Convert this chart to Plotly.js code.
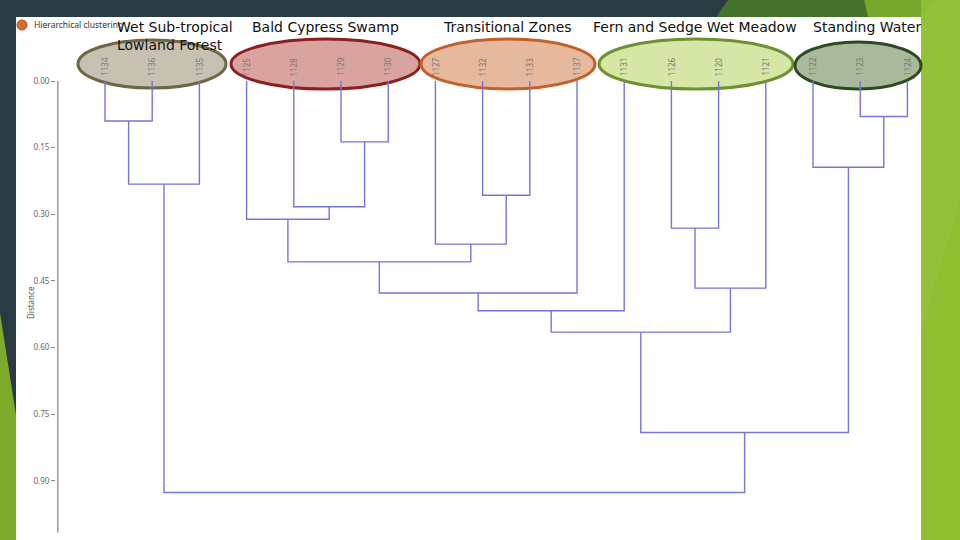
<!DOCTYPE html>
<html>
<head>
<meta charset="utf-8">
<script src="https://cdn.plot.ly/plotly-3.0.1.min.js"></script>
<style>html,body{margin:0;padding:0;background:#2a3a43;}#chart{width:960px;height:540px;}</style>
</head>
<body>
<div id="chart"></div>
<script>
// ---- data ----
const leaves = ['1134','1136','1135','1125','1128','1129','1130','1127','1132','1133','1137','1131','1126','1120','1121','1122','1123','1124'];
// linkage: [child A, child B, distance]; children are leaf names or merge ids "m<k>"
const mergeA = ['1123','1134','1129','1122','m1','1132','1128','1125','1126','1127','m7','m8','m10','m12','m13','m14','m4'];
const mergeB = ['1124','1136','1130','m0','1135','1133','m2','m6','1120','m5','m9','1121','1137','1131','m11','m3','m15'];
const mergeH = [0.080,0.090,0.137,0.194,0.232,0.257,0.283,0.311,0.331,0.367,0.407,0.466,0.477,0.517,0.565,0.791,0.926];
const yTicks = [0,0.15,0.30,0.45,0.60,0.75,0.90];
const yTickText = ['0.00','0.15','0.30','0.45','0.60','0.75','0.90'];
const groupNames = ['Wet Sub-tropical<br>Lowland Forest','Bald Cypress Swamp','Transitional Zones','Fern and Sedge Wet Meadow','Standing Water'];

// ---- layout geometry (pixels) ----
const W=960,H=540,L=56,R=921,T=17,B=535;
const leaf0=105, step=47.2, yZero=81, pxPerUnit=444.4;
const px2x = p => (p-L)/(R-L);
const py2y = p => (B-p)/(B-T);

// compute dendrogram segments
const pos = {}; // name -> [x, h]
leaves.forEach((n,i)=>{pos[n]=[i,0];});
const lx=[], ly=[];
mergeH.forEach((h,k)=>{
  const a=pos[mergeA[k]], b=pos[mergeB[k]];
  lx.push(a[0],a[0],b[0],b[0],null);
  ly.push(a[1],h,h,b[1],null);
  pos['m'+k]=[(a[0]+b[0])/2,h];
});

const traces=[{
  type:'scatter',mode:'lines',x:lx,y:ly,
  line:{color:'#7676d6',width:1.4},hoverinfo:'skip',showlegend:false
}];

const shapes=[];
// white panel
shapes.push({type:'rect',xref:'paper',yref:'paper',x0:px2x(16),x1:px2x(921),y0:py2y(540),y1:py2y(17),fillcolor:'#ffffff',line:{width:0},layer:'below'});
// green decorations
function poly(pts,color){
  const d='M'+pts.map(p=>px2x(p[0])+','+py2y(p[1])).join(' L')+' Z';
  shapes.push({type:'path',xref:'paper',yref:'paper',path:d,fillcolor:color,line:{width:0},layer:'below'});
}
poly([[0,313],[16,415],[16,540],[0,540]],'#7fab2c');
poly([[728,0],[864,0],[868,17],[716,17]],'#44722a');
poly([[864,0],[960,0],[960,17],[868,17]],'#78a72e');
poly([[921,0],[960,0],[960,540],[921,540]],'#8fbf31');
poly([[935,0],[960,0],[960,200],[921,330],[921,17]],'#93c23a');

// ellipses
const ell=[
  [78,226,40,88,'#c6c1b0','#6d6647'],
  [231,420,39,89,'#d9a3a0','#8c2020'],
  [421,595,39,89,'#e6b89e','#c0612a'],
  [599,793,39,89,'#d5e6a6','#6f9030'],
  [795,921,42,89,'#a9b99c','#2d4a1e']
];
ell.forEach(e=>{
  shapes.push({type:'circle',xref:'paper',yref:'paper',x0:px2x(e[0]),x1:px2x(e[1]),y0:py2y(e[3]),y1:py2y(e[2]),fillcolor:e[4],line:{color:e[5],width:3},layer:'below'});
});
// axis line
shapes.push({type:'line',xref:'x',yref:'y',x0:-1,x1:-1,y0:0,y1:1.016,line:{color:'#8a8a8a',width:1.3}});
// icon
shapes.push({type:'circle',xref:'paper',yref:'paper',x0:px2x(17),x1:px2x(27),y0:py2y(30),y1:py2y(20),fillcolor:'#d96a2e',line:{color:'#b04a1a',width:1}});

const annotations=[];
leaves.forEach((n,i)=>{
  annotations.push({xref:'x',yref:'y',x:i,y:-0.032,text:n,showarrow:false,textangle:-90,font:{family:'Noto Sans',size:8,color:'#777'}});
});
const gx=[115,250,441,591,811];
groupNames.forEach((g,i)=>{
  annotations.push({xref:'paper',yref:'paper',x:px2x(gx[i]),y:py2y(17),xanchor:'left',yanchor:'top',align:'left',text:g,showarrow:false,font:{family:'DejaVu Sans',size:14,color:'#111'}});
});
annotations.push({xref:'paper',yref:'paper',x:px2x(32),y:py2y(25),xanchor:'left',yanchor:'middle',text:'Hierarchical clustering',showarrow:false,font:{family:'Noto Sans',size:8.5,color:'#333'}});
annotations.push({xref:'paper',yref:'paper',x:px2x(30),y:py2y(303),xanchor:'center',yanchor:'middle',text:'Distance',textangle:-90,showarrow:false,font:{family:'Noto Sans',size:8,color:'#555'}});

const layout={
  width:W,height:H,
  margin:{l:L,r:W-R,t:T,b:H-B},
  paper_bgcolor:'#2a3a43',plot_bgcolor:'rgba(0,0,0,0)',
  xaxis:{range:[(L-leaf0)/step,(R-leaf0)/step],visible:false,fixedrange:true},
  yaxis:{range:[(B-yZero)/pxPerUnit,(T-yZero)/pxPerUnit],tickvals:yTicks,ticktext:yTickText,
    ticks:'outside',ticklen:4,tickcolor:'#8a8a8a',showgrid:false,zeroline:false,showline:false,
    tickfont:{family:'Noto Sans',size:8,color:'#666'},fixedrange:true},
  shapes:shapes,annotations:annotations,showlegend:false
};
Plotly.newPlot('chart',traces,layout,{displayModeBar:false,staticPlot:true});
</script>
</body>
</html>
